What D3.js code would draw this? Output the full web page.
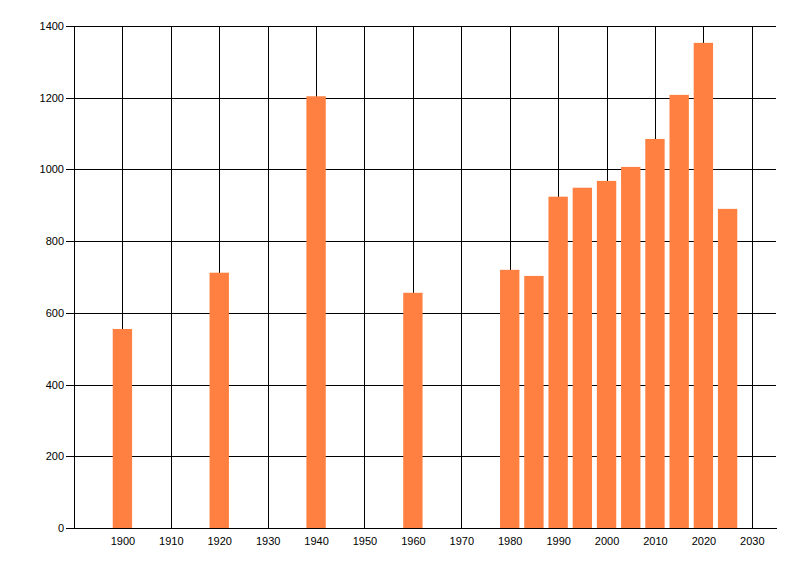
<!DOCTYPE html>
<html>
<head>
<meta charset="utf-8">
<script src="https://cdn.jsdelivr.net/npm/d3@7"></script>
<style>
  body { margin: 0; background: #fff; }
  .axis text { font-family: "Liberation Sans", Arial, sans-serif; font-size: 11px; fill: #000; }
  .axis path, .axis line, .grid line { stroke: #000; shape-rendering: crispEdges; }
</style>
</head>
<body>
<div id="chart"></div>
<script>
const years = [1900, 1920, 1940, 1960, 1980, 1985, 1990, 1995, 2000, 2005, 2010, 2015, 2020, 2025];
const values = [555, 712, 1204, 656, 720, 703, 924, 949, 968, 1007, 1085, 1208, 1353, 890];
const xTicks = [1900, 1910, 1920, 1930, 1940, 1950, 1960, 1970, 1980, 1990, 2000, 2010, 2020, 2030];
const yTicks = [0, 200, 400, 600, 800, 1000, 1200, 1400];

const width = 800;
const height = 576;
const margin = { top: 26, right: 24, bottom: 48, left: 74 };
const innerWidth = width - margin.left - margin.right;
const innerHeight = height - margin.top - margin.bottom;

const svg = d3.select('#chart')
  .append('svg')
  .attr('width', width)
  .attr('height', height)
  .append('g')
  .attr('transform', `translate(${margin.left}, ${margin.top})`);

const x = d3.scaleLinear()
  .domain([1890, 2035])
  .range([0, innerWidth]);

const y = d3.scaleLinear()
  .domain([0, 1400])
  .range([innerHeight, 0]);

const px = v => Math.round(v) + 0.5;

// grid
const grid = svg.append('g').attr('class', 'grid');
grid.selectAll('.v')
  .data(xTicks)
  .enter().append('line')
  .attr('x1', d => px(x(d)))
  .attr('x2', d => px(x(d)))
  .attr('y1', 0)
  .attr('y2', innerHeight);
grid.selectAll('.h')
  .data(yTicks.slice(1))
  .enter().append('line')
  .attr('x1', 0)
  .attr('x2', innerWidth)
  .attr('y1', d => px(y(d)))
  .attr('y2', d => px(y(d)));

// bars
svg.append('g')
  .selectAll('rect')
  .data(years.map((yr, i) => [yr, values[i]]))
  .enter().append('rect')
  .attr('x', d => x(d[0] - 2))
  .attr('width', d => x(d[0] + 2) - x(d[0] - 2))
  .attr('y', d => y(d[1]))
  .attr('height', d => innerHeight - y(d[1]))
  .attr('fill', '#ff8040');

// axes
svg.append('g')
  .attr('class', 'axis')
  .attr('transform', `translate(0, ${innerHeight})`)
  .call(d3.axisBottom(x)
    .tickValues(xTicks)
    .tickFormat(d3.format('d'))
    .tickSize(0)
    .tickSizeOuter(0)
    .tickPadding(9));

svg.append('g')
  .attr('class', 'axis')
  .call(d3.axisLeft(y)
    .tickValues(yTicks)
    .tickFormat(d3.format('d'))
    .tickSize(8)
    .tickSizeOuter(0)
    .tickPadding(2));
</script>
</body>
</html>
